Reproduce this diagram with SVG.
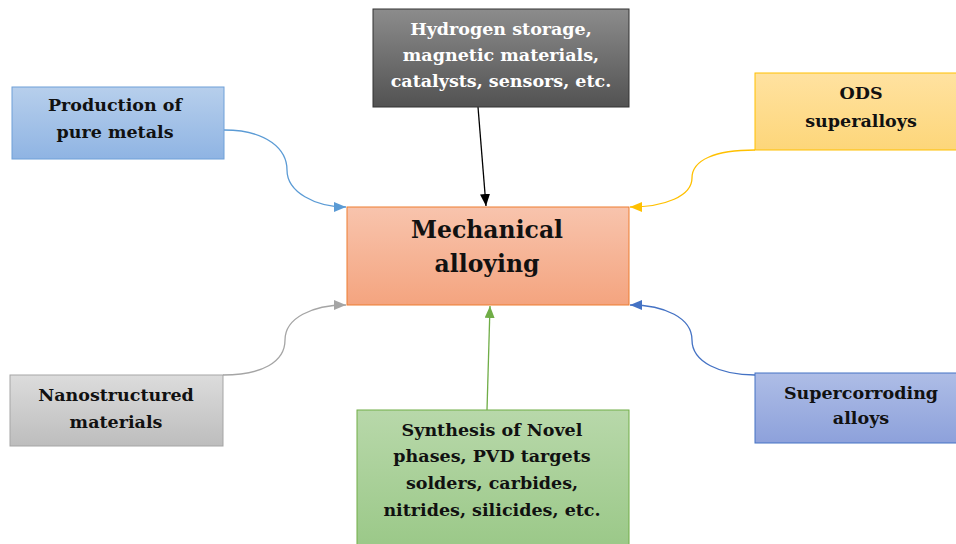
<svg xmlns="http://www.w3.org/2000/svg" width="956" height="544" viewBox="0 0 956 544">
<style>
.t{font-family:"DejaVu Serif","Liberation Serif",serif;font-weight:bold;font-size:17.5px;text-anchor:middle;fill:#111}
.w{fill:#fff}
.big{font-size:23.5px}
.c{fill:none;stroke-width:1.3}
</style>
<defs>
<linearGradient id="gBlue" x1="0" y1="0" x2="0" y2="1"><stop offset="0" stop-color="#b7cfec"/><stop offset="1" stop-color="#8fb4e3"/></linearGradient>
<linearGradient id="gOrange" x1="0" y1="0" x2="0" y2="1"><stop offset="0" stop-color="#f8c4ad"/><stop offset="1" stop-color="#f4a47f"/></linearGradient>
<linearGradient id="gDark" x1="0" y1="0" x2="0" y2="1"><stop offset="0" stop-color="#8c8c8c"/><stop offset="1" stop-color="#525252"/></linearGradient>
<linearGradient id="gYellow" x1="0" y1="0" x2="0" y2="1"><stop offset="0" stop-color="#ffe2a0"/><stop offset="1" stop-color="#fdd67a"/></linearGradient>
<linearGradient id="gGray" x1="0" y1="0" x2="0" y2="1"><stop offset="0" stop-color="#dcdcdc"/><stop offset="1" stop-color="#bdbdbd"/></linearGradient>
<linearGradient id="gIndigo" x1="0" y1="0" x2="0" y2="1"><stop offset="0" stop-color="#aebde6"/><stop offset="1" stop-color="#8da1db"/></linearGradient>
<linearGradient id="gGreen" x1="0" y1="0" x2="0" y2="1"><stop offset="0" stop-color="#b8d8aa"/><stop offset="1" stop-color="#98c785"/></linearGradient>
<marker id="mBlue" markerUnits="userSpaceOnUse" markerWidth="14" markerHeight="12" refX="12" refY="5" orient="auto"><path d="M0,0 L12,5 L0,10 z" fill="#5b9bd5"/></marker>
<marker id="mBlack" markerUnits="userSpaceOnUse" markerWidth="14" markerHeight="12" refX="12" refY="5" orient="auto"><path d="M0,0 L12,5 L0,10 z" fill="#000"/></marker>
<marker id="mYellow" markerUnits="userSpaceOnUse" markerWidth="14" markerHeight="12" refX="12" refY="5" orient="auto"><path d="M0,0 L12,5 L0,10 z" fill="#ffc000"/></marker>
<marker id="mGray" markerUnits="userSpaceOnUse" markerWidth="14" markerHeight="12" refX="12" refY="5" orient="auto"><path d="M0,0 L12,5 L0,10 z" fill="#a5a5a5"/></marker>
<marker id="mIndigo" markerUnits="userSpaceOnUse" markerWidth="14" markerHeight="12" refX="12" refY="5" orient="auto"><path d="M0,0 L12,5 L0,10 z" fill="#4472c4"/></marker>
<marker id="mGreen" markerUnits="userSpaceOnUse" markerWidth="14" markerHeight="12" refX="12" refY="5" orient="auto"><path d="M0,0 L12,5 L0,10 z" fill="#70ad47"/></marker>
</defs>
<rect width="956" height="544" fill="#fff"/>
<g id="connectors">
<path class="c" stroke="#5b9bd5" marker-end="url(#mBlue)" d="M224,130 C268,130 287,150 287,170 C287,192 315,207 346,207"/>
<path class="c" stroke="#000" marker-end="url(#mBlack)" d="M478,107 L486,206"/>
<path class="c" stroke="#ffc000" marker-end="url(#mYellow)" d="M755,150 C715,150 692,160 692,178 C692,196 665,207 630,207"/>
<path class="c" stroke="#a5a5a5" stroke-width="2" marker-end="url(#mGray)" d="M223,375 C262,375 285,362 285,340 C285,318 312,305 346,305"/>
<path class="c" stroke="#4472c4" marker-end="url(#mIndigo)" d="M755,375 C720,375 692,362 692,340 C692,318 665,305 630,305"/>
<path class="c" stroke="#70ad47" marker-end="url(#mGreen)" d="M487,410 L490,306"/>
</g>
<g id="production">
<rect x="12" y="87" width="212" height="72" fill="url(#gBlue)" stroke="#6fa0d8" stroke-width="1"/>
<text class="t" x="115" y="111">Production of</text>
<text class="t" x="115" y="138">pure metals</text>
</g>
<g id="hydrogen">
<rect x="373" y="9" width="256" height="98" fill="url(#gDark)" stroke="#333" stroke-width="1"/>
<text class="t w" x="501" y="35">Hydrogen storage,</text>
<text class="t w" x="501" y="61">magnetic materials,</text>
<text class="t w" x="501" y="87">catalysts, sensors, etc.</text>
</g>
<g id="ods">
<rect x="755" y="73" width="212" height="77" fill="url(#gYellow)" stroke="#ffc000" stroke-width="1"/>
<text class="t" x="861" y="99">ODS</text>
<text class="t" x="861" y="127">superalloys</text>
</g>
<g id="mechanical">
<rect x="347" y="207" width="282" height="98" fill="url(#gOrange)" stroke="#ed7d31" stroke-width="1"/>
<text class="t big" x="487" y="238">Mechanical</text>
<text class="t big" x="487" y="272">alloying</text>
</g>
<g id="nanostructured">
<rect x="10" y="375" width="213" height="71" fill="url(#gGray)" stroke="#a5a5a5" stroke-width="1"/>
<text class="t" x="116" y="401">Nanostructured</text>
<text class="t" x="116" y="428">materials</text>
</g>
<g id="supercorroding">
<rect x="755" y="373" width="212" height="70" fill="url(#gIndigo)" stroke="#4472c4" stroke-width="1"/>
<text class="t" x="861" y="399">Supercorroding</text>
<text class="t" x="861" y="424">alloys</text>
</g>
<g id="synthesis">
<rect x="357" y="410" width="272" height="150" fill="url(#gGreen)" stroke="#70ad47" stroke-width="1"/>
<text class="t" x="492" y="436">Synthesis of Novel</text>
<text class="t" x="492" y="462">phases, PVD targets</text>
<text class="t" x="492" y="489">solders, carbides,</text>
<text class="t" x="492" y="516">nitrides, silicides, etc.</text>
</g>
</svg>
